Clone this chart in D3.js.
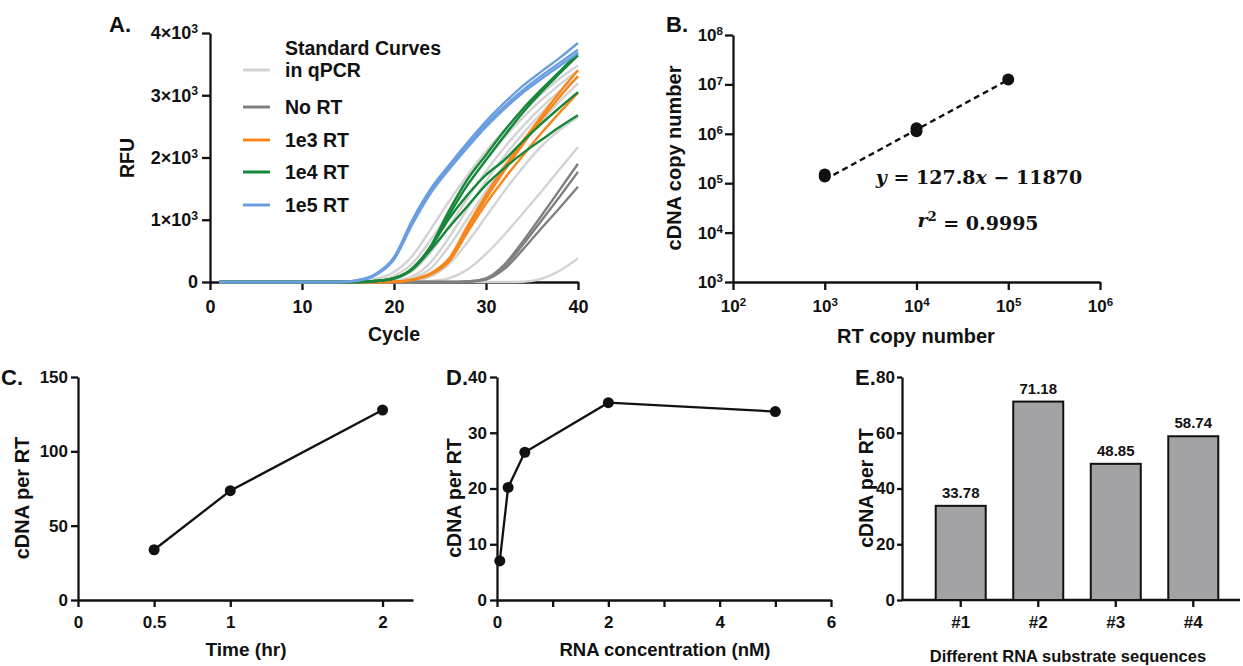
<!DOCTYPE html>
<html><head><meta charset="utf-8">
<script src="https://cdn.jsdelivr.net/npm/d3@7"></script>
<style>
body{margin:0;background:#fff;}
svg text{font-family:"Liberation Sans",Arial,sans-serif;font-weight:bold;fill:#111;}
</style></head><body>
<svg id="c" width="1243" height="666"></svg>
<script>
// ---------- Panel A data (qPCR amplification curves, RFU per cycle) ----------
const cycles = [1,2,4,6,8,10,12,14,16,18,20,22,24,26,28,30,32,34,36,38,40];
const stdCurves = [
  [0,0,0,0,0,0,0,0,10,50,160,420,850,1300,1720,2100,2440,2750,3020,3270,3480],
  [0,0,0,0,0,0,0,0,0,25,100,300,680,1120,1560,1960,2320,2640,2920,3170,3400],
  [0,0,0,0,0,0,0,0,0,10,50,180,480,900,1350,1780,2160,2500,2800,3060,3280],
  [0,0,0,0,0,0,0,0,0,0,20,90,320,720,1180,1620,2020,2380,2710,3010,3300],
  [0,0,0,0,0,0,0,0,0,0,10,60,220,580,1020,1460,1870,2240,2580,2900,3190],
  [0,0,0,0,0,0,0,0,0,0,0,20,90,290,640,1050,1460,1840,2180,2440,2650],
  [0,0,0,0,0,0,0,0,0,0,0,0,15,60,200,450,760,1100,1450,1810,2170],
  [0,0,0,0,0,0,0,0,0,0,0,0,0,0,0,0,0,5,50,180,380]
];
const noRT = [
  [0,0,0,0,0,0,0,0,0,0,0,0,0,0,10,60,280,650,1060,1480,1900],
  [0,0,0,0,0,0,0,0,0,0,0,0,0,0,10,50,250,600,980,1370,1770],
  [0,0,0,0,0,0,0,0,0,0,0,0,0,0,5,40,210,520,860,1190,1530]
];
const rt1e3 = [
  [0,0,0,0,0,0,0,0,0,0,5,40,140,380,900,1400,1850,2260,2660,3050,3400],
  [0,0,0,0,0,0,0,0,0,0,5,35,130,350,850,1340,1790,2210,2610,2970,3310],
  [0,0,0,0,0,0,0,0,0,0,5,35,120,330,800,1260,1660,2030,2390,2720,3040]
];
const rt1e4 = [
  [0,0,0,0,0,0,0,0,0,15,60,220,580,1150,1650,2040,2430,2780,3090,3380,3680],
  [0,0,0,0,0,0,0,0,0,15,60,220,560,1020,1400,1720,1960,2260,2540,2800,3050],
  [0,0,0,0,0,0,0,0,0,15,55,200,520,880,1220,1560,1830,2070,2280,2490,2680],
  [0,0,0,0,0,0,0,0,0,15,60,210,560,1080,1560,1960,2350,2720,3050,3350,3640]
];
const rt1e5 = [
  [0,0,0,0,0,0,0,0,30,130,400,1000,1500,1880,2240,2580,2880,3150,3380,3600,3840],
  [0,0,0,0,0,0,0,0,25,120,380,960,1460,1840,2200,2530,2820,3080,3310,3520,3730],
  [0,0,0,0,0,0,0,0,20,110,360,930,1430,1810,2160,2490,2780,3040,3260,3470,3680]
];
const rfuTicks = [0,1000,2000,3000,4000];
const cycleTicks = [0,10,20,30,40];
const legendLabels = [["Standard Curves","in qPCR"],["No RT"],["1e3 RT"],["1e4 RT"],["1e5 RT"]];
const legendColors = ["#d3d3d3","#808080","#f7861c","#17873a","#6b9ee0"];

// ---------- Panel B data ----------
const rtCopy   = [1e3, 1e3, 1e4, 1e4, 1e5];
const cdnaCopy = [1.36e5, 1.5e5, 1.12e6, 1.3e6, 1.25e7];
const fitLineX = [1e3, 1e5];
const fitLineY = [1.18e5, 1.24e7];
const bXTicks = [1e2,1e3,1e4,1e5,1e6];
const bYTicks = [1e3,1e4,1e5,1e6,1e7,1e8];

// ---------- Panel C data ----------
const timeHr = [0.5, 1, 2];
const cdnaTime = [33.8, 73.5, 127.8];
const cXTicks = [0, 0.5, 1, 2];
const cYTicks = [0, 50, 100, 150];

// ---------- Panel D data ----------
const rnaConc = [0.05, 0.2, 0.5, 2, 5];
const cdnaConc = [7, 20.2, 26.5, 35.4, 33.8];
const dXTicks = [0,1,2,3,4,5,6];
const dYTicks = [0,10,20,30,40];

// ---------- Panel E data ----------
const seqNames = ["#1","#2","#3","#4"];
const seqValues = [33.78, 71.18, 48.85, 58.74];
const eYTicks = [0,20,40,60,80];

// ======================================================
const svg = d3.select("#c");
const INK = "#111";
const FONT = '"Liberation Sans", Arial, sans-serif';
const SERIF = '"DejaVu Serif", "Liberation Serif", serif';

function styleAxis(g, fs) {
  g.attr("font-family", null).attr("font-size", null);
  g.selectAll("path, line").attr("stroke", INK).attr("stroke-width", 2.3);
  g.selectAll("text").attr("fill", INK).style("font-size", fs + "px")
    .style("font-weight", "bold").style("font-family", FONT);
}
function supLabel(sel, base, exp) {
  sel.text(null);
  sel.append("tspan").text(base);
  sel.append("tspan").attr("dy", "-0.5em").style("font-size", "0.68em").text(exp);
}
function txt(x, y, s, fs, anchor, rot) {
  const t = svg.append("text").attr("x", x).attr("y", y).text(s)
    .style("font-size", fs + "px").attr("text-anchor", anchor || "middle");
  if (rot) t.attr("transform", `rotate(${rot},${x},${y})`);
  return t;
}

// ---------------- Panel A ----------------
{
  const x = d3.scaleLinear().domain([0, 40]).range([210, 578]);
  const y = d3.scaleLinear().domain([0, 4000]).range([282, 33]);
  const gy = svg.append("g").attr("transform", "translate(210,0)")
    .call(d3.axisLeft(y).tickValues(rfuTicks).tickSize(8).tickPadding(4).tickSizeOuter(0));
  styleAxis(gy, 18);
  gy.selectAll(".tick text").each(function (d) {
    const s = d3.select(this);
    if (d === 0) s.text("0"); else supLabel(s, (d / 1000) + "×10", "3");
  });
  const gx = svg.append("g").attr("transform", "translate(0,282)")
    .call(d3.axisBottom(x).tickValues(cycleTicks).tickSize(8).tickPadding(10).tickSizeOuter(0));
  styleAxis(gx, 18);

  const line = d3.line().x((d, i) => x(cycles[i])).y(d => y(d)).curve(d3.curveMonotoneX);
  const groups = [[stdCurves, legendColors[0]], [noRT, legendColors[1]], [rt1e3, legendColors[2]],
                  [rt1e4, legendColors[3]], [rt1e5, legendColors[4]]];
  groups.forEach(([curves, col]) => {
    svg.append("g").selectAll("path").data(curves).join("path")
      .attr("d", line).attr("fill", "none").attr("stroke", col).attr("stroke-width", 2.4);
  });

  // legend
  const ly = [70, 107, 140, 172, 205];
  legendLabels.forEach((lab, i) => {
    svg.append("line").attr("x1", 243).attr("x2", 270).attr("y1", ly[i]).attr("y2", ly[i])
      .attr("stroke", legendColors[i]).attr("stroke-width", 3);
    if (lab.length === 2) {
      txt(285, ly[i] - 15, lab[0], 19.5, "start");
      txt(285, ly[i] + 7, lab[1], 19.5, "start");
    } else {
      txt(285, ly[i] + 7, lab[0], 19.5, "start");
    }
  });
  txt(109, 32, "A.", 22, "start");
  txt(127, 158, "RFU", 19.5, "middle", -90).attr("dy", "0.35em");
  txt(394, 341, "Cycle", 19.5, "middle");
}

// ---------------- Panel B ----------------
{
  const x = d3.scaleLog().domain([1e2, 1e6]).range([733, 1100]);
  const y = d3.scaleLog().domain([1e3, 1e8]).range([282, 35]);
  const gy = svg.append("g").attr("transform", "translate(733,0)")
    .call(d3.axisLeft(y).tickValues(bYTicks).tickSize(8).tickPadding(2).tickSizeOuter(0));
  styleAxis(gy, 17);
  gy.selectAll(".tick text").each(function (d) {
    supLabel(d3.select(this), "10", Math.round(Math.log10(d)));
  });
  const gx = svg.append("g").attr("transform", "translate(0,282)")
    .call(d3.axisBottom(x).tickValues(bXTicks).tickSize(8).tickPadding(10).tickSizeOuter(0));
  styleAxis(gx, 17);
  gx.selectAll(".tick text").each(function (d) {
    supLabel(d3.select(this), "10", Math.round(Math.log10(d)));
  });

  svg.append("path").datum(fitLineX.map((v, i) => [v, fitLineY[i]]))
    .attr("d", d3.line().x(d => x(d[0])).y(d => y(d[1])))
    .attr("fill", "none").attr("stroke", INK).attr("stroke-width", 2.4)
    .attr("stroke-dasharray", "6,4");
  svg.append("g").selectAll("circle").data(rtCopy).join("circle")
    .attr("cx", d => x(d)).attr("cy", (d, i) => y(cdnaCopy[i])).attr("r", 6).attr("fill", INK);

  const eq = svg.append("text").attr("x", 979).attr("y", 184).attr("text-anchor", "middle")
    .style("font-family", SERIF).style("font-size", "19px");
  eq.append("tspan").style("font-style", "italic").text("y");
  eq.append("tspan").text(" = 127.8");
  eq.append("tspan").style("font-style", "italic").text("x");
  eq.append("tspan").text(" − 11870");
  const r2 = svg.append("text").attr("x", 978).attr("y", 227).attr("text-anchor", "middle")
    .style("font-family", SERIF).style("font-size", "19px");
  r2.append("tspan").style("font-style", "italic").text("r");
  r2.append("tspan").attr("dy", "-0.45em").style("font-size", "0.7em").text("2");
  r2.append("tspan").attr("dy", "0.45em").text(" = 0.9995");

  txt(666, 32, "B.", 22, "start");
  txt(674, 158, "cDNA copy number", 20, "middle", -90).attr("dy", "0.35em");
  txt(916, 343, "RT copy number", 20, "middle");
}

// ---------------- Panel C ----------------
{
  const x = d3.scaleLinear().domain([0, 2.2]).range([78, 413]);
  const y = d3.scaleLinear().domain([0, 150]).range([600, 377]);
  const gy = svg.append("g").attr("transform", "translate(78,0)")
    .call(d3.axisLeft(y).tickValues(cYTicks).tickSize(7).tickPadding(3).tickSizeOuter(0));
  styleAxis(gy, 17);
  const gx = svg.append("g").attr("transform", "translate(0,600)")
    .call(d3.axisBottom(x).tickValues(cXTicks).tickFormat(d3.format("")).tickSize(7).tickPadding(9).tickSizeOuter(0));
  styleAxis(gx, 17);
  svg.append("path").datum(timeHr)
    .attr("d", d3.line().x(d => x(d)).y((d, i) => y(cdnaTime[i])))
    .attr("fill", "none").attr("stroke", INK).attr("stroke-width", 2.3);
  svg.append("g").selectAll("circle").data(timeHr).join("circle")
    .attr("cx", d => x(d)).attr("cy", (d, i) => y(cdnaTime[i])).attr("r", 5.5).attr("fill", INK);
  txt(1, 385, "C.", 22, "start");
  txt(22, 498, "cDNA per RT", 20, "middle", -90).attr("dy", "0.35em");
  txt(246, 656, "Time (hr)", 19, "middle");
}

// ---------------- Panel D ----------------
{
  const x = d3.scaleLinear().domain([0, 6]).range([497, 831]);
  const y = d3.scaleLinear().domain([0, 40]).range([600, 377]);
  const gy = svg.append("g").attr("transform", "translate(497,0)")
    .call(d3.axisLeft(y).tickValues(dYTicks).tickSize(7).tickPadding(3).tickSizeOuter(0));
  styleAxis(gy, 17);
  const gx = svg.append("g").attr("transform", "translate(0,600)")
    .call(d3.axisBottom(x).tickValues(dXTicks).tickFormat(d => d % 2 === 0 ? d : "")
      .tickSize(7).tickPadding(9).tickSizeOuter(0));
  styleAxis(gx, 17);
  svg.append("path").datum(rnaConc)
    .attr("d", d3.line().x(d => x(d)).y((d, i) => y(cdnaConc[i])))
    .attr("fill", "none").attr("stroke", INK).attr("stroke-width", 2.3);
  svg.append("g").selectAll("circle").data(rnaConc).join("circle")
    .attr("cx", d => x(d)).attr("cy", (d, i) => y(cdnaConc[i])).attr("r", 5.5).attr("fill", INK);
  txt(446, 385, "D.", 22, "start");
  txt(454, 498, "cDNA per RT", 19.5, "middle", -90).attr("dy", "0.35em");
  txt(665, 656, "RNA concentration (nM)", 18.5, "middle");
}

// ---------------- Panel E ----------------
{
  const x = d3.scaleBand().domain(seqNames).range([922, 1232]).paddingInner(0.355).paddingOuter(0.177);
  const y = d3.scaleLinear().domain([0, 80]).range([600, 377]);
  const gy = svg.append("g").attr("transform", "translate(902,0)")
    .call(d3.axisLeft(y).tickValues(eYTicks).tickSize(5).tickPadding(2).tickSizeOuter(0));
  styleAxis(gy, 17);
  svg.append("line").attr("x1", 902).attr("x2", 1240).attr("y1", 600).attr("y2", 600)
    .attr("stroke", INK).attr("stroke-width", 2.3);
  svg.append("g").selectAll("rect").data(seqValues).join("rect")
    .attr("x", (d, i) => x(seqNames[i])).attr("width", x.bandwidth())
    .attr("y", d => y(d)).attr("height", d => 600 - y(d))
    .attr("fill", "#a3a3a6").attr("stroke", INK).attr("stroke-width", 2);
  const gx = svg.append("g").attr("transform", "translate(0,600)")
    .call(d3.axisBottom(x).tickSize(7).tickPadding(9).tickSizeOuter(0));
  styleAxis(gx, 17);
  gx.select(".domain").remove();
  svg.append("g").selectAll("text").data(seqValues).join("text")
    .attr("x", (d, i) => x(seqNames[i]) + x.bandwidth() / 2).attr("y", d => y(d) - 8)
    .attr("text-anchor", "middle").style("font-size", "15px").text(d => d.toFixed(2));
  txt(855, 385, "E.", 22, "start");
  txt(866, 488, "cDNA per RT", 19.5, "middle", -90).attr("dy", "0.35em");
  txt(1068, 662, "Different RNA substrate sequences", 16.5, "middle");
}
</script>
</body></html>
